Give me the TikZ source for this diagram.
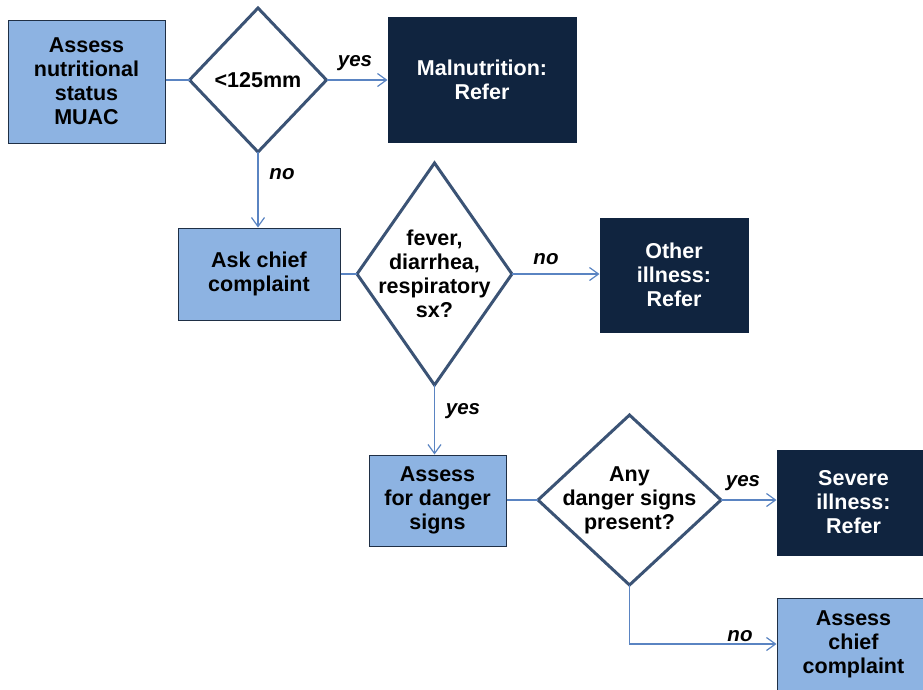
\documentclass[tikz,border=0pt]{standalone}
\usepackage{fontspec}
\setmainfont{Liberation Sans}
\usetikzlibrary{shapes.geometric,arrows.meta}
\definecolor{lightbox}{HTML}{8DB3E2}
\definecolor{boxline}{HTML}{1F2F45}
\definecolor{darkbox}{HTML}{10243F}
\definecolor{diaLine}{HTML}{3B5375}
\definecolor{arrowc}{HTML}{5A84C2}
\begin{document}
\begin{tikzpicture}[x=1pt,y=-1pt,
  txt/.style={font=\fontsize{21.5}{24}\selectfont\bfseries, align=center, text=black},
  lbox/.style={txt, draw=boxline, line width=1pt, fill=lightbox, inner sep=0pt},
  dbox/.style={txt, text=white, draw=darkbox, line width=1pt, fill=darkbox, inner sep=0pt},
  dia/.style={shape=diamond, draw=diaLine, line width=3pt, fill=white, inner sep=0pt, outer sep=0pt},
  conn/.style={draw=arrowc, line width=1.2pt},
  arr/.style={conn, -{Straight Barb[length=9pt,width=13pt,line width=1.2pt]}},
  lab/.style={font=\fontsize{20.5}{22}\selectfont\bfseries\itshape, text=black, inner sep=0pt}
]
\useasboundingbox (0,0) rectangle (923,689);
% boxes
\node[lbox, minimum width=157, minimum height=123] (b1) at (86.5,81.5) {Assess\\nutritional\\status\\MUAC};
\node[dia, minimum width=137, minimum height=144, label={[txt]center:{<125mm}}] (d1) at (258,80) {};
\node[dbox, minimum width=188, minimum height=125] (m1) at (482,79.5) {Malnutrition:\\Refer};

\node[lbox, minimum width=162, minimum height=92] (b2) at (259,274) {Ask chief\\complaint};
\node[dia, minimum width=155, minimum height=222, label={[txt]center:{fever,\\diarrhea,\\respiratory\\sx?}}] (d2) at (434.5,274) {};
\node[dbox, minimum width=148, minimum height=114] (o2) at (674,275) {Other\\illness:\\Refer};

\node[lbox, minimum width=137, minimum height=91] (b3) at (437.5,500.5) {Assess\\for danger\\signs};
\node[dia, minimum width=183, minimum height=170, label={[txt]center:{Any\\danger signs\\present?}}] (d3) at (629.5,500) {};
\node[dbox, minimum width=153, minimum height=105] (s3) at (853.5,502.5) {Severe\\illness:\\Refer};
\node[lbox, minimum width=153, minimum height=92] (b5) at (853.5,644) {Assess\\chief\\complaint};
\coordinate (k3) at (d3.south |- b5.west);

% connectors
\draw[conn] (b1.east |- d1.west) -- (d1.west);
\draw[arr] (d1.east) -- (m1.west |- d1.east);
\draw[arr] (d1.south) -- (b2.north -| d1.south);
\draw[conn] (b2.east) -- (d2.west);
\draw[arr] (d2.east) -- (o2.west |- d2.east);
\draw[arr] (d2.south) -- (b3.north -| d2.south);
\draw[conn] (b3.east |- d3.west) -- (d3.west);
\draw[arr] (d3.east) -- (s3.west |- d3.east);
\draw[arr] (d3.south) -- (k3) -- (b5.west);

% labels
\node[lab] (l1) at (355,63) {yes};
\node[lab] (l2) at (282,174) {no};
\node[lab] (l3) at (546,259) {no};
\node[lab] (l4) at (463,411) {yes};
\node[lab] (l5) at (743,483) {yes};
\node[lab] (l6) at (740,636) {no};
\end{tikzpicture}
\end{document}
